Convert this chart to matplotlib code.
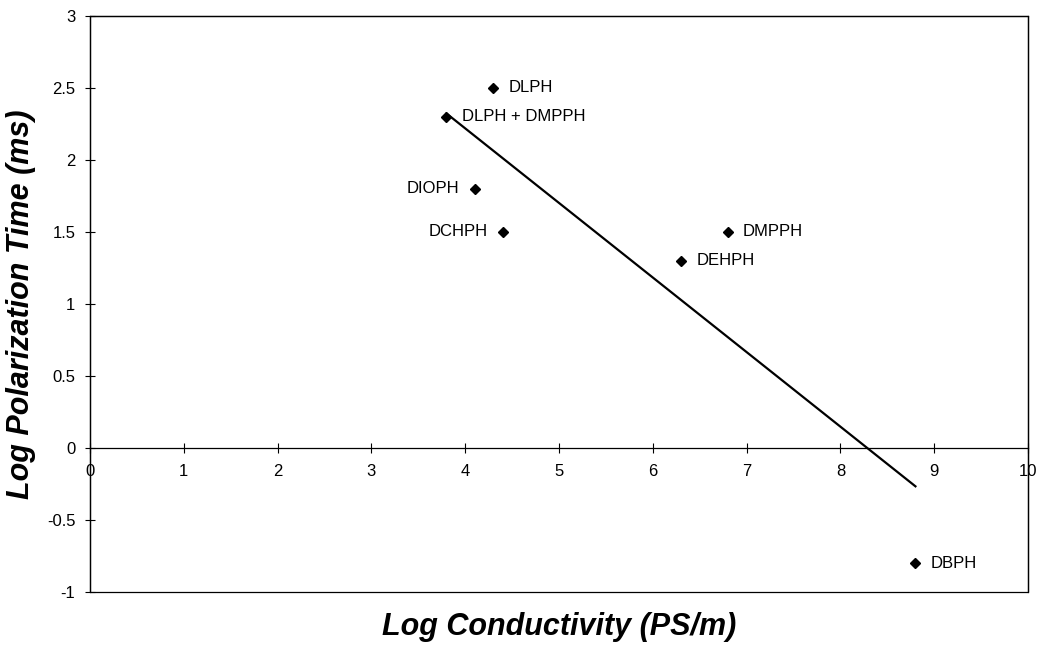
# Imports
import numpy as np
import matplotlib
matplotlib.use('Agg')
import matplotlib.pyplot as plt
from matplotlib.patches import Rectangle
from matplotlib.ticker import FuncFormatter

plt.rcParams['font.family'] = ['Liberation Sans', 'DejaVu Sans']
plt.rcParams['axes.unicode_minus'] = False

# Data
names = ['DLPH', 'DLPH + DMPPH', 'DIOPH', 'DCHPH', 'DMPPH', 'DEHPH', 'DBPH']
log_cond = [4.3, 3.8, 4.1, 4.4, 6.8, 6.3, 8.8]
log_pol = [2.5, 2.3, 1.8, 1.5, 1.5, 1.3, -0.8]
left_labels = {'DIOPH', 'DCHPH'}

x_ticks = np.arange(0, 11, 1)
y_ticks = np.arange(-1, 3.01, 0.5)

# Linear trendline over the data range
slope, intercept = np.polyfit(log_cond, log_pol, 1)
fit_x = np.array([min(log_cond), max(log_cond)])
fit_y = slope * fit_x + intercept

# Figure
fig = plt.figure(figsize=(10.44, 6.45), dpi=100)
ax = fig.add_axes([90 / 1044, 1 - 592 / 645, 938 / 1044, 576 / 645])

ax.plot(fit_x, fit_y, color='black', linewidth=1.6, zorder=2)
ax.plot(log_cond, log_pol, linestyle='none', marker='D', markersize=5.5,
        color='black', zorder=3)

for name, x, y in zip(names, log_cond, log_pol):
    if name in left_labels:
        ax.annotate(name, (x, y), xytext=(-11, 0), textcoords='offset points',
                    ha='right', va='center', fontsize=12)
    else:
        ax.annotate(name, (x, y), xytext=(11, 0), textcoords='offset points',
                    ha='left', va='center', fontsize=12)

ax.set_xlim(0, 10)
ax.set_ylim(-1, 3)
ax.set_xticks(x_ticks)
ax.set_yticks(y_ticks)
fmt = FuncFormatter(lambda v, p: f'{v:g}')
ax.xaxis.set_major_formatter(fmt)
ax.yaxis.set_major_formatter(fmt)

# x axis drawn through y = 0, with a box round the plot area
ax.spines['bottom'].set_position(('data', 0))
for s in ax.spines.values():
    s.set_linewidth(0.9)
ax.add_patch(Rectangle((0, 0), 1, 1, transform=ax.transAxes, fill=False,
                       linewidth=0.9, edgecolor='black', clip_on=False))

ax.tick_params(axis='x', direction='inout', length=7, width=0.8,
               labelsize=12, pad=8)
ax.tick_params(axis='y', direction='inout', length=7, width=0.8,
               labelsize=12, pad=7)

ax.set_xlabel('Log Conductivity (PS/m)', fontsize=22, fontweight='bold',
              fontstyle='italic')
ax.xaxis.set_label_coords(0.5, -0.034)
ax.set_ylabel('Log Polarization Time (ms)', fontsize=22, fontweight='bold',
              fontstyle='italic')
ax.yaxis.set_label_coords(-0.058, 0.5)

fig.savefig('out.png', dpi=100)
